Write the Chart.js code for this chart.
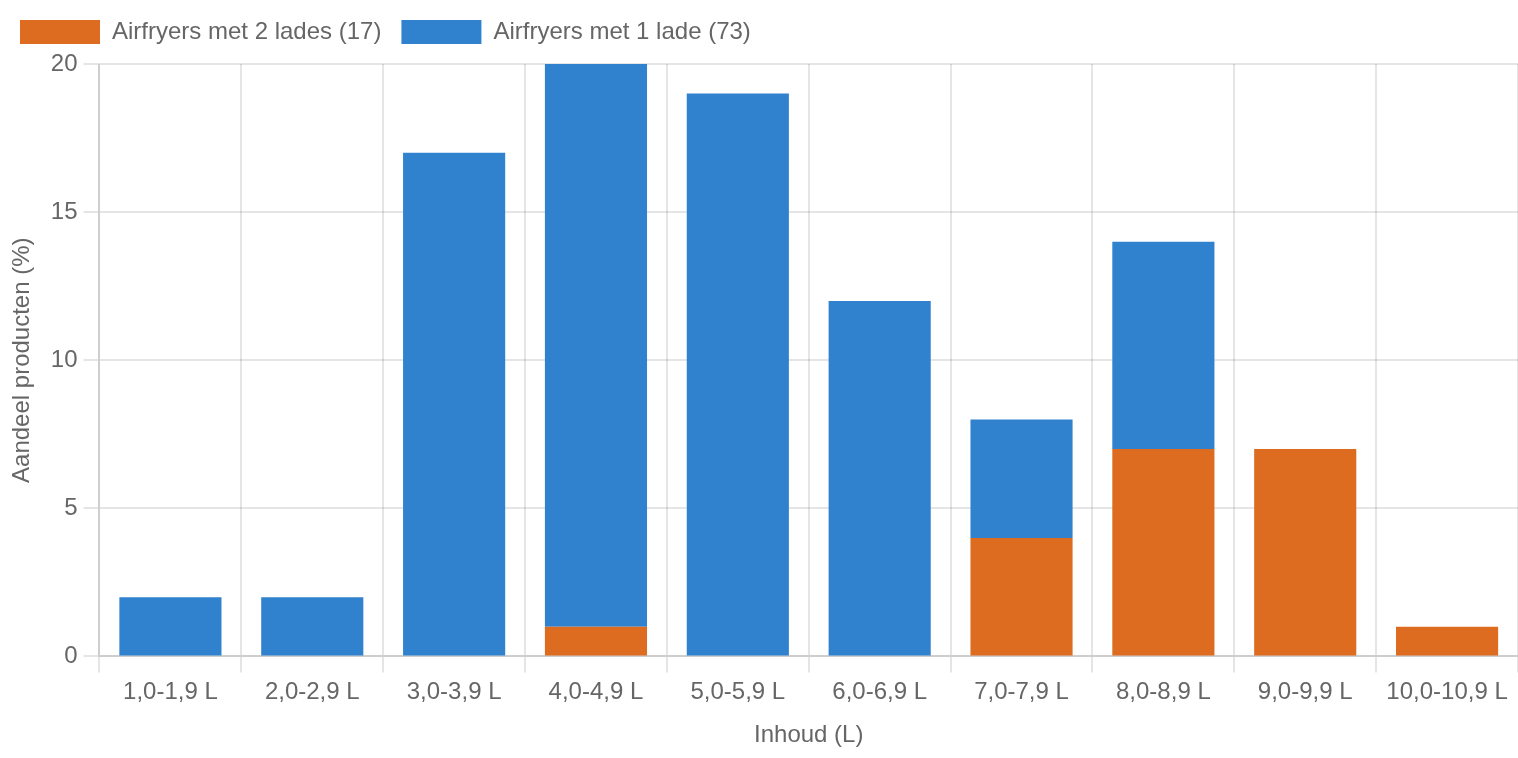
<!DOCTYPE html>
<html lang="nl">
<head>
  <meta charset="UTF-8" />
  <title>Airfryers inhoud</title>
  <script src="https://cdn.jsdelivr.net/npm/chart.js"></script>
  <style>
    html, body { margin: 0; padding: 0; background: #fff; }
    #wrap { width: 1518px; height: 758px; position: relative; }
  </style>
</head>
<body>
  <div id="wrap"><canvas id="chart"></canvas></div>

  <script>
    const categories = ['1,0-1,9 L', '2,0-2,9 L', '3,0-3,9 L', '4,0-4,9 L', '5,0-5,9 L',
                        '6,0-6,9 L', '7,0-7,9 L', '8,0-8,9 L', '9,0-9,9 L', '10,0-10,9 L'];
    const twoDrawers = [0, 0, 0, 1, 0, 0, 4, 7, 7, 1];
    const oneDrawer = [2, 2, 17, 19, 19, 12, 4, 7, 0, 0];
    const yTicks = { min: 0, max: 20, step: 5 };

    Chart.defaults.font.family = '"Liberation Sans", Arial, Helvetica, sans-serif';
    Chart.defaults.font.size = 24;
    Chart.defaults.color = '#666';

    const grid = { color: 'rgba(0,0,0,0.1)', lineWidth: 2, tickLength: 16 };

    // a bit more room under the legend
    const legendGap = {
      id: 'legendGap',
      beforeInit(chart) {
        const fit = chart.legend.fit;
        chart.legend.fit = function () {
          fit.bind(chart.legend)();
          this.height += 10;
        };
      }
    };

    new Chart(document.getElementById('chart'), {
      type: 'bar',
      data: {
        labels: categories,
        datasets: [
          { label: 'Airfryers met 2 lades (17)', data: twoDrawers, backgroundColor: '#DD6B20' },
          { label: 'Airfryers met 1 lade (73)', data: oneDrawer, backgroundColor: '#3182CE' }
        ]
      },
      options: {
        responsive: true,
        maintainAspectRatio: false,
        animation: false,
        plugins: {
          legend: {
            align: 'start',
            labels: { boxWidth: 80, boxHeight: 24, padding: 20 }
          },
          tooltip: { enabled: false }
        },
        scales: {
          x: {
            stacked: true,
            grid: grid,
            border: { color: 'rgba(0,0,0,0.1)', width: 2 },
            ticks: { padding: 6 },
            title: { display: true, text: 'Inhoud (L)', padding: { top: 8, bottom: 8 } }
          },
          y: {
            stacked: true,
            min: yTicks.min,
            max: yTicks.max,
            grid: grid,
            border: { color: 'rgba(0,0,0,0.1)', width: 2 },
            ticks: { stepSize: yTicks.step, padding: 6 },
            title: { display: true, text: 'Aandeel producten (%)', padding: { top: 8, bottom: 8 } }
          }
        }
      },
      plugins: [legendGap]
    });
  </script>
</body>
</html>
